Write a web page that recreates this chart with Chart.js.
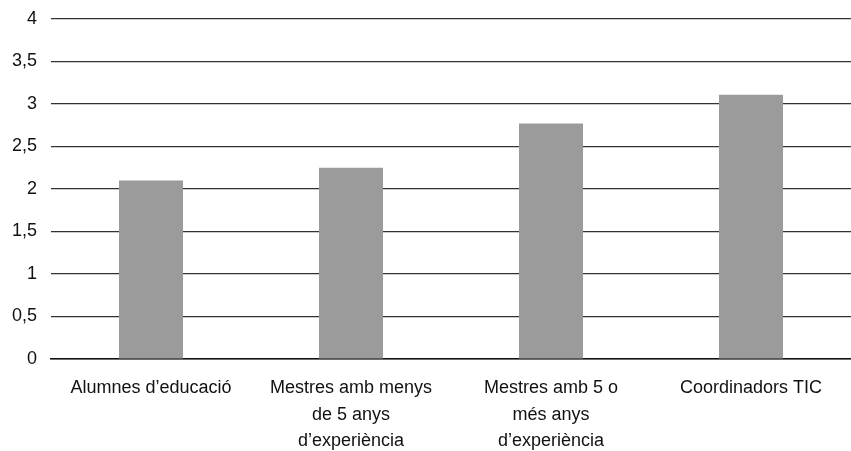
<!DOCTYPE html>
<html>
<head>
<meta charset="utf-8">
<script src="https://cdn.jsdelivr.net/npm/chart.js@4/dist/chart.umd.min.js"></script>
<style>
  html, body { margin: 0; padding: 0; background: #ffffff; }
  #wrap { width: 851px; height: 451px; }
</style>
</head>
<body>
<div id="wrap"><canvas id="chart" width="851" height="451"></canvas></div>
<script>
// Categories (multi-line labels as arrays of lines)
const categories = [
  ["Alumnes d\u2019educaci\u00f3"],
  ["Mestres amb menys", "de 5 anys", "d\u2019experi\u00e8ncia"],
  ["Mestres amb 5 o", "m\u00e9s anys", "d\u2019experi\u00e8ncia"],
  ["Coordinadors TIC"]
];

// Mean score for each group
const scores = [2.10, 2.25, 2.77, 3.11];

// Value axis ticks
const yMin = 0;
const yMax = 4;
const yStep = 0.5;

const FONT = "'Liberation Sans', Arial, Helvetica, sans-serif";

new Chart(document.getElementById('chart'), {
  type: 'bar',
  data: {
    labels: categories,
    datasets: [{
      data: scores,
      backgroundColor: '#9b9b9b',
      borderWidth: 0,
      categoryPercentage: 1.0,
      barPercentage: 0.32
    }]
  },
  options: {
    responsive: false,
    animation: false,
    devicePixelRatio: 1,
    layout: { padding: { top: 19, right: 0, bottom: 0, left: 0 } },
    plugins: {
      legend: { display: false },
      tooltip: { enabled: false }
    },
    scales: {
      x: {
        grid: { display: false, drawTicks: false },
        border: { display: true, color: '#111111', width: 1.5 },
        ticks: {
          color: '#111111',
          font: { family: FONT, size: 18, lineHeight: 1.47 },
          padding: 16,
          maxRotation: 0,
          autoSkip: false
        },
        afterFit: (scale) => {
          scale.height = 92;
          scale.paddingLeft = 0;
          scale.paddingRight = 0;
        }
      },
      y: {
        min: yMin,
        max: yMax,
        grid: {
          color: '#333333',
          lineWidth: 1.2,
          drawTicks: false
        },
        border: { display: false },
        ticks: {
          stepSize: yStep,
          color: '#111111',
          font: { family: FONT, size: 18 },
          padding: 14,
          callback: (v) => String(v).replace('.', ',')
        },
        afterFit: (scale) => {
          scale.width = 51;
          scale.paddingTop = 0;
          scale.paddingBottom = 0;
        }
      }
    }
  }
});
</script>
</body>
</html>
